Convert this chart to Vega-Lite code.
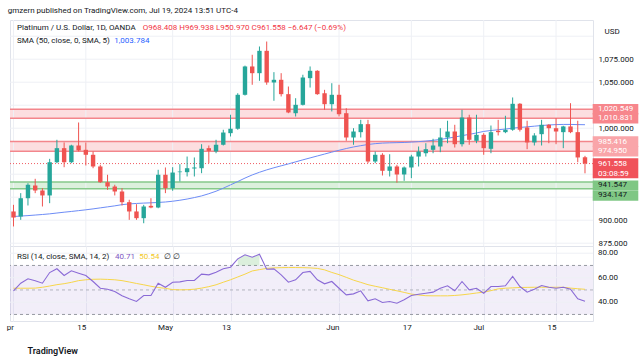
{
  "$schema": "https://vega.github.io/schema/vega-lite/v6.json",
  "background": "white",
  "bounds": "flush",
  "padding": {"left": 5, "top": 6, "right": 0, "bottom": 0},
  "title": {"text": "gmzern published on TradingView.com, Jul 19, 2024 13:51 UTC-4", "anchor": "start", "fontSize": 8, "fontWeight": "normal", "font": "Roboto", "color": "#131722", "offset": 4.5, "dx": 2},
  "datasets": {
    "bars": [
      {"date":"2024-04-01","open":909.5,"high":916.7,"low":893.2,"close":902.9,"sma":904.0,"rsi":49.3,"rsi_ma":51.4},
      {"date":"2024-04-02","open":904.0,"high":929.4,"low":900.4,"close":923.9,"sma":904.5,"rsi":55.5,"rsi_ma":51.4},
      {"date":"2024-04-03","open":923.9,"high":940.2,"low":916.0,"close":938.5,"sma":905.0,"rsi":59.1,"rsi_ma":51.4},
      {"date":"2024-04-04","open":937.7,"high":945.0,"low":929.4,"close":932.3,"sma":905.6,"rsi":57.5,"rsi_ma":51.5},
      {"date":"2024-04-05","open":932.3,"high":934.8,"low":914.9,"close":926.9,"sma":906.2,"rsi":55.5,"rsi_ma":52.2},
      {"date":"2024-04-08","open":926.9,"high":966.7,"low":918.5,"close":963.0,"sma":906.9,"rsi":64.2,"rsi_ma":53.2},
      {"date":"2024-04-09","open":963.0,"high":987.4,"low":962.0,"close":978.3,"sma":907.8,"rsi":67.3,"rsi_ma":54.3},
      {"date":"2024-04-10","open":978.3,"high":984.5,"low":957.6,"close":963.0,"sma":908.7,"rsi":61.8,"rsi_ma":55.1},
      {"date":"2024-04-11","open":963.0,"high":982.0,"low":962.0,"close":981.2,"sma":909.5,"rsi":65.6,"rsi_ma":56.2},
      {"date":"2024-04-12","open":981.2,"high":1006.2,"low":974.7,"close":975.8,"sma":910.4,"rsi":63.7,"rsi_ma":57.6},
      {"date":"2024-04-15","open":976.5,"high":984.5,"low":959.5,"close":971.1,"sma":911.3,"rsi":61.8,"rsi_ma":58.3},
      {"date":"2024-04-16","open":971.1,"high":974.7,"low":956.5,"close":958.4,"sma":912.3,"rsi":56.9,"rsi_ma":58.7},
      {"date":"2024-04-17","open":958.4,"high":960.2,"low":940.5,"close":941.3,"sma":913.4,"rsi":51.4,"rsi_ma":58.8},
      {"date":"2024-04-18","open":941.3,"high":949.4,"low":933.0,"close":936.6,"sma":914.5,"rsi":50.6,"rsi_ma":58.6},
      {"date":"2024-04-19","open":936.6,"high":938.5,"low":926.9,"close":931.2,"sma":915.6,"rsi":48.7,"rsi_ma":58.3},
      {"date":"2024-04-22","open":931.2,"high":934.8,"low":916.0,"close":919.6,"sma":916.9,"rsi":45.2,"rsi_ma":57.6},
      {"date":"2024-04-23","open":919.6,"high":922.2,"low":900.4,"close":909.5,"sma":917.7,"rsi":42.8,"rsi_ma":56.5},
      {"date":"2024-04-24","open":909.5,"high":917.4,"low":900.4,"close":902.2,"sma":918.2,"rsi":40.6,"rsi_ma":55.3},
      {"date":"2024-04-25","open":902.2,"high":916.7,"low":896.7,"close":914.9,"sma":918.6,"rsi":45.5,"rsi_ma":54.2},
      {"date":"2024-04-26","open":915.6,"high":923.9,"low":913.0,"close":913.8,"sma":918.9,"rsi":45.5,"rsi_ma":53.0},
      {"date":"2024-04-29","open":913.8,"high":954.8,"low":913.0,"close":949.4,"sma":919.3,"rsi":55.5,"rsi_ma":52.0},
      {"date":"2024-04-30","open":949.4,"high":957.3,"low":929.4,"close":934.8,"sma":919.8,"rsi":52.2,"rsi_ma":51.3},
      {"date":"2024-05-01","open":934.8,"high":957.6,"low":932.0,"close":951.8,"sma":920.6,"rsi":56.3,"rsi_ma":50.3},
      {"date":"2024-05-02","open":952.2,"high":960.9,"low":942.1,"close":952.9,"sma":921.7,"rsi":56.6,"rsi_ma":50.1},
      {"date":"2024-05-03","open":952.2,"high":969.2,"low":947.5,"close":956.5,"sma":923.0,"rsi":57.7,"rsi_ma":50.2},
      {"date":"2024-05-06","open":956.2,"high":968.2,"low":947.5,"close":957.3,"sma":924.6,"rsi":57.7,"rsi_ma":50.6},
      {"date":"2024-05-07","open":956.5,"high":982.6,"low":951.1,"close":977.6,"sma":926.4,"rsi":62.9,"rsi_ma":51.5},
      {"date":"2024-05-08","open":978.3,"high":981.2,"low":962.0,"close":975.4,"sma":928.8,"rsi":62.3,"rsi_ma":52.7},
      {"date":"2024-05-09","open":974.7,"high":987.4,"low":972.8,"close":982.0,"sma":931.5,"rsi":64.5,"rsi_ma":54.2},
      {"date":"2024-05-10","open":982.0,"high":998.3,"low":981.2,"close":995.3,"sma":934.8,"rsi":67.3,"rsi_ma":56.3},
      {"date":"2024-05-13","open":994.6,"high":1014.6,"low":991.0,"close":999.4,"sma":938.4,"rsi":68.6,"rsi_ma":58.3},
      {"date":"2024-05-14","open":999.4,"high":1038.0,"low":998.3,"close":1036.3,"sma":942.0,"rsi":75.4,"rsi_ma":60.6},
      {"date":"2024-05-15","open":1036.3,"high":1068.0,"low":1035.5,"close":1067.1,"sma":945.8,"rsi":78.7,"rsi_ma":62.9},
      {"date":"2024-05-16","open":1067.1,"high":1079.8,"low":1047.2,"close":1059.8,"sma":949.2,"rsi":76.7,"rsi_ma":65.5},
      {"date":"2024-05-17","open":1059.8,"high":1088.8,"low":1051.5,"close":1084.1,"sma":952.1,"rsi":79.2,"rsi_ma":66.6},
      {"date":"2024-05-20","open":1084.1,"high":1094.2,"low":1047.2,"close":1049.7,"sma":954.7,"rsi":66.9,"rsi_ma":67.6},
      {"date":"2024-05-21","open":1049.7,"high":1060.9,"low":1029.8,"close":1052.6,"sma":957.0,"rsi":67.2,"rsi_ma":68.0},
      {"date":"2024-05-22","open":1052.6,"high":1059.8,"low":1034.5,"close":1037.0,"sma":959.1,"rsi":62.3,"rsi_ma":68.2},
      {"date":"2024-05-23","open":1037.0,"high":1045.3,"low":1016.3,"close":1017.1,"sma":961.2,"rsi":56.3,"rsi_ma":68.3},
      {"date":"2024-05-24","open":1016.3,"high":1032.6,"low":1012.7,"close":1025.4,"sma":963.4,"rsi":58.3,"rsi_ma":68.3},
      {"date":"2024-05-27","open":1025.4,"high":1058.1,"low":1024.7,"close":1055.1,"sma":965.6,"rsi":64.2,"rsi_ma":68.2},
      {"date":"2024-05-28","open":1054.4,"high":1067.1,"low":1044.2,"close":1062.4,"sma":967.7,"rsi":65.1,"rsi_ma":68.0},
      {"date":"2024-05-29","open":1062.4,"high":1063.0,"low":1036.3,"close":1037.0,"sma":969.8,"rsi":58.3,"rsi_ma":67.6},
      {"date":"2024-05-30","open":1038.0,"high":1041.7,"low":1020.0,"close":1026.1,"sma":971.9,"rsi":55.0,"rsi_ma":66.4},
      {"date":"2024-05-31","open":1026.1,"high":1048.9,"low":1018.2,"close":1036.3,"sma":974.0,"rsi":56.9,"rsi_ma":64.3},
      {"date":"2024-06-03","open":1036.3,"high":1047.2,"low":1012.7,"close":1015.2,"sma":976.0,"rsi":51.4,"rsi_ma":62.5},
      {"date":"2024-06-04","open":1016.3,"high":1021.7,"low":986.3,"close":989.9,"sma":977.9,"rsi":46.0,"rsi_ma":60.3},
      {"date":"2024-06-05","open":989.9,"high":1000.0,"low":982.0,"close":996.4,"sma":979.6,"rsi":46.8,"rsi_ma":58.0},
      {"date":"2024-06-06","open":995.7,"high":1009.1,"low":989.9,"close":1004.4,"sma":981.0,"rsi":49.3,"rsi_ma":56.2},
      {"date":"2024-06-07","open":1004.4,"high":1009.1,"low":962.0,"close":963.8,"sma":982.3,"rsi":41.1,"rsi_ma":54.3},
      {"date":"2024-06-10","open":963.8,"high":974.7,"low":962.0,"close":971.1,"sma":983.2,"rsi":42.8,"rsi_ma":53.0},
      {"date":"2024-06-11","open":971.1,"high":972.8,"low":948.6,"close":953.7,"sma":983.8,"rsi":39.8,"rsi_ma":51.8},
      {"date":"2024-06-12","open":953.7,"high":971.7,"low":947.5,"close":958.4,"sma":984.1,"rsi":40.6,"rsi_ma":50.5},
      {"date":"2024-06-13","open":958.4,"high":960.2,"low":940.8,"close":949.7,"sma":984.3,"rsi":39.2,"rsi_ma":49.3},
      {"date":"2024-06-14","open":949.7,"high":958.4,"low":942.8,"close":957.3,"sma":984.5,"rsi":42.0,"rsi_ma":48.0},
      {"date":"2024-06-17","open":957.3,"high":971.1,"low":945.7,"close":969.2,"sma":984.9,"rsi":45.5,"rsi_ma":46.6},
      {"date":"2024-06-18","open":969.2,"high":980.1,"low":958.4,"close":974.7,"sma":985.4,"rsi":46.5,"rsi_ma":45.9},
      {"date":"2024-06-19","open":972.8,"high":983.7,"low":969.2,"close":977.2,"sma":986.0,"rsi":47.3,"rsi_ma":45.3},
      {"date":"2024-06-20","open":976.5,"high":988.5,"low":972.8,"close":981.2,"sma":986.8,"rsi":48.2,"rsi_ma":45.2},
      {"date":"2024-06-21","open":980.1,"high":1000.0,"low":973.9,"close":989.9,"sma":987.8,"rsi":51.4,"rsi_ma":45.2},
      {"date":"2024-06-24","open":989.9,"high":1008.1,"low":983.7,"close":996.4,"sma":989.0,"rsi":53.4,"rsi_ma":45.2},
      {"date":"2024-06-25","open":996.4,"high":1003.7,"low":979.0,"close":982.6,"sma":990.4,"rsi":49.3,"rsi_ma":45.5},
      {"date":"2024-06-26","open":982.6,"high":1020.0,"low":980.1,"close":1011.6,"sma":991.9,"rsi":56.9,"rsi_ma":46.0},
      {"date":"2024-06-27","open":1011.6,"high":1014.6,"low":982.0,"close":987.4,"sma":993.3,"rsi":50.1,"rsi_ma":46.7},
      {"date":"2024-06-28","open":986.3,"high":1014.6,"low":983.7,"close":992.8,"sma":994.8,"rsi":51.4,"rsi_ma":47.5},
      {"date":"2024-07-01","open":992.8,"high":994.6,"low":971.1,"close":978.3,"sma":996.5,"rsi":47.3,"rsi_ma":48.2},
      {"date":"2024-07-02","open":977.6,"high":1002.9,"low":972.8,"close":995.7,"sma":997.5,"rsi":52.8,"rsi_ma":49.4},
      {"date":"2024-07-03","open":997.2,"high":1009.1,"low":992.1,"close":995.7,"sma":998.3,"rsi":52.8,"rsi_ma":50.9},
      {"date":"2024-07-04","open":995.7,"high":1013.5,"low":994.6,"close":998.3,"sma":999.1,"rsi":53.4,"rsi_ma":51.4},
      {"date":"2024-07-05","open":998.3,"high":1033.4,"low":997.2,"close":1026.5,"sma":1000.0,"rsi":61.0,"rsi_ma":51.7},
      {"date":"2024-07-08","open":1026.5,"high":1027.2,"low":996.4,"close":998.3,"sma":1000.8,"rsi":52.8,"rsi_ma":52.0},
      {"date":"2024-07-09","open":1000.8,"high":1008.1,"low":977.2,"close":984.5,"sma":1001.5,"rsi":48.2,"rsi_ma":52.1},
      {"date":"2024-07-10","open":984.5,"high":994.6,"low":981.2,"close":992.1,"sma":1002.2,"rsi":50.6,"rsi_ma":52.2},
      {"date":"2024-07-11","open":993.5,"high":1009.1,"low":981.2,"close":1003.7,"sma":1002.9,"rsi":53.6,"rsi_ma":52.2},
      {"date":"2024-07-12","open":1003.7,"high":1004.4,"low":983.7,"close":1000.0,"sma":1003.5,"rsi":52.2,"rsi_ma":52.2},
      {"date":"2024-07-15","open":1000.0,"high":1010.9,"low":982.6,"close":996.4,"sma":1003.9,"rsi":51.4,"rsi_ma":52.2},
      {"date":"2024-07-16","open":995.7,"high":1002.6,"low":978.3,"close":1001.9,"sma":1004.1,"rsi":52.2,"rsi_ma":52.2},
      {"date":"2024-07-17","open":1001.9,"high":1027.2,"low":994.6,"close":995.7,"sma":1004.1,"rsi":50.6,"rsi_ma":51.5},
      {"date":"2024-07-18","open":995.7,"high":1008.1,"low":963.0,"close":968.205,"sma":1003.9,"rsi":42.8,"rsi_ma":51.0},
      {"date":"2024-07-19","open":968.408,"high":969.938,"low":950.97,"close":961.558,"sma":1003.784,"rsi":40.71,"rsi_ma":50.54}
    ],
    "gridDates": [
      {"date":"2024-04-01"},{"date":"2024-04-15"},{"date":"2024-05-01"},{"date":"2024-05-13"},
      {"date":"2024-06-03"},{"date":"2024-06-17"},{"date":"2024-07-01"},{"date":"2024-07-15"}
    ],
    "zones": [
      {"lo":1010.831,"hi":1020.549,"kind":"res"},
      {"lo":974.95,"hi":985.416,"kind":"zone"},
      {"lo":934.147,"hi":941.547,"kind":"sup"}
    ],
    "tags": [
      {"price":1020.549,"label":"1,020.549","kind":"res"},
      {"price":1010.831,"label":"1,010.831","kind":"res"},
      {"price":985.416,"label":"985.416","kind":"zone"},
      {"price":974.95,"label":"974.950","kind":"zone"},
      {"price":961.558,"label":"961.558","sub":"03:08:59","kind":"last"},
      {"price":941.547,"label":"941.547","kind":"sup1"},
      {"price":934.147,"label":"934.147","kind":"sup2"}
    ]
  },
  "spacing": 0,
  "vconcat": [
    {
      "width": 583,
      "height": 226,
      "layer": [
        {
          "data": {"name": "zones"},
          "mark": {"type": "rect"},
          "encoding": {
            "y": {"field": "lo", "type": "quantitative", "scale": {"domain": [871.96, 1117.6], "nice": false, "zero": false},
              "axis": {"orient": "right", "values": [875, 900, 1000, 1050, 1075],
                "format": ",.3f",
                "labelOverlap": false, "labelBound": false, "labelSeparation": 0, "ticks": false, "domain": false, "grid": false, "labelPadding": 5, "labelFontSize": 8,
                "title": "USD", "titleAngle": 0, "titleAlign": "left", "titleBaseline": "middle", "titleX": 11, "titleY": 11.5,
                "titleFontSize": 8, "titleFontWeight": "normal", "titleColor": "#131722", "titleFont": "Roboto"}},
            "y2": {"field": "hi"},
            "fill": {"condition": {"test": "datum.kind === 'sup'", "value": "#dcf0dd"}, "value": "#fcdee0"}
          }
        },
        {
          "data": {"values": [{"level": 875}, {"level": 900}, {"level": 925}, {"level": 950}, {"level": 975}, {"level": 1000}, {"level": 1025}, {"level": 1050}, {"level": 1075}, {"level": 1100}]},
          "mark": {"type": "rule", "color": "#eef0f5", "strokeWidth": 1},
          "encoding": {"y": {"field": "level", "type": "quantitative"}}
        },
        {
          "data": {"name": "gridDates"},
          "mark": {"type": "rule", "color": "#eef0f5", "strokeWidth": 1},
          "encoding": {"x": {"field": "date", "type": "ordinal", "scale": {"type": "point", "padding": 0.795, "align": 0.304}, "axis": null}}
        },
        {
          "data": {"name": "zones"},
          "mark": {"type": "rule", "strokeWidth": 1.5},
          "encoding": {
            "y": {"field": "lo", "type": "quantitative"},
            "color": {"condition": {"test": "datum.kind === 'sup'", "value": "#86c98a"}, "value": "#f3868c"}
          }
        },
        {
          "data": {"name": "zones"},
          "mark": {"type": "rule", "strokeWidth": 1.5},
          "encoding": {
            "y": {"field": "hi", "type": "quantitative"},
            "color": {"condition": {"test": "datum.kind === 'sup'", "value": "#86c98a"}, "value": "#f3868c"}
          }
        },
        {
          "data": {"name": "tags"},
          "transform": [{"filter": "datum.kind === 'last'"}],
          "mark": {"type": "rule", "strokeWidth": 1, "strokeDash": [1, 2], "color": "#f05c64"},
          "encoding": {"y": {"field": "price", "type": "quantitative"}}
        },
        {
          "data": {"name": "bars"},
          "mark": {"type": "line", "color": "#6d8cf6", "strokeWidth": 1},
          "encoding": {
            "x": {"field": "date", "type": "ordinal", "axis": null},
            "y": {"field": "sma", "type": "quantitative"}
          }
        },
        {
          "data": {"name": "bars"},
          "mark": {"type": "rule", "strokeWidth": 1},
          "encoding": {
            "x": {"field": "date", "type": "ordinal", "axis": null},
            "y": {"field": "low", "type": "quantitative"},
            "y2": {"field": "high"},
            "color": {"condition": {"test": "datum.close >= datum.open", "value": "#26a69a"}, "value": "#ef5350"}
          }
        },
        {
          "data": {"name": "bars"},
          "mark": {"type": "bar", "width": 4.4},
          "encoding": {
            "x": {"field": "date", "type": "ordinal", "axis": null},
            "y": {"field": "open", "type": "quantitative"},
            "y2": {"field": "close"},
            "color": {"condition": {"test": "datum.close >= datum.open", "value": "#26a69a"}, "value": "#ef5350"}
          }
        },
        {
          "data": {"values": [{}]},
          "mark": {"type": "text", "text": "Platinum / U.S. Dollar, 1D, OANDA", "align": "left", "baseline": "middle", "dx": 3.5, "fontSize": 8, "font": "Roboto", "color": "#131722"},
          "encoding": {"x": {"datum": "2024-04-01", "type": "ordinal", "axis": null}, "y": {"datum": 1108.7, "type": "quantitative"}}
        },
        {
          "data": {"values": [{}]},
          "mark": {"type": "text", "text": "O968.408  H969.938  L950.970  C961.558  −6.647 (−0.69%)", "align": "left", "baseline": "middle", "dx": 129.2, "fontSize": 8, "font": "Roboto", "color": "#f23645"},
          "encoding": {"x": {"datum": "2024-04-01", "type": "ordinal", "axis": null}, "y": {"datum": 1108.7, "type": "quantitative"}}
        },
        {
          "data": {"values": [{}]},
          "mark": {"type": "text", "text": "SMA (50, close, 0, SMA, 5)", "align": "left", "baseline": "middle", "dx": 3.5, "fontSize": 8, "font": "Roboto", "color": "#131722"},
          "encoding": {"x": {"datum": "2024-04-01", "type": "ordinal", "axis": null}, "y": {"datum": 1095.0, "type": "quantitative"}}
        },
        {
          "data": {"values": [{}]},
          "mark": {"type": "text", "text": "1,003.784", "align": "left", "baseline": "middle", "dx": 100.8, "fontSize": 8, "font": "Roboto", "color": "#2962ff"},
          "encoding": {"x": {"datum": "2024-04-01", "type": "ordinal", "axis": null}, "y": {"datum": 1095.0, "type": "quantitative"}}
        },
        {
          "data": {"name": "tags"},
          "transform": [{"filter": "datum.kind === 'res' || datum.kind === 'zone'"}],
          "mark": {"type": "tick", "orient": "horizontal", "size": 45.6, "thickness": 10.6, "xOffset": 30.5, "opacity": 1},
          "encoding": {
            "x": {"datum": "2024-07-19", "type": "ordinal", "axis": null},
            "y": {"field": "price", "type": "quantitative"},
            "color": {"condition": {"test": "datum.kind === 'res'", "value": "#f7868c"}, "value": "#f9a5a9"}
          }
        },
        {
          "data": {"name": "tags"},
          "transform": [{"filter": "datum.kind === 'last'"}],
          "mark": {"type": "tick", "orient": "horizontal", "size": 45.6, "thickness": 20, "xOffset": 30.5, "yOffset": 4.6, "opacity": 1, "color": "#f0525a"},
          "encoding": {
            "x": {"datum": "2024-07-19", "type": "ordinal", "axis": null},
            "y": {"field": "price", "type": "quantitative"}
          }
        },
        {
          "data": {"name": "tags"},
          "transform": [{"filter": "datum.kind === 'sup1'"}],
          "mark": {"type": "tick", "orient": "horizontal", "size": 45.6, "thickness": 9.6, "xOffset": 30.5, "yOffset": 3.3, "opacity": 1, "color": "#7fc784"},
          "encoding": {
            "x": {"datum": "2024-07-19", "type": "ordinal", "axis": null},
            "y": {"field": "price", "type": "quantitative"}
          }
        },
        {
          "data": {"name": "tags"},
          "transform": [{"filter": "datum.kind === 'sup2'"}],
          "mark": {"type": "tick", "orient": "horizontal", "size": 45.6, "thickness": 10.3, "xOffset": 30.5, "yOffset": 6.7, "opacity": 1, "color": "#7fc784"},
          "encoding": {
            "x": {"datum": "2024-07-19", "type": "ordinal", "axis": null},
            "y": {"field": "price", "type": "quantitative"}
          }
        },
        {
          "data": {"name": "tags"},
          "transform": [{"filter": "datum.kind === 'res' || datum.kind === 'zone' || datum.kind === 'last'"}],
          "mark": {"type": "text", "align": "left", "baseline": "middle", "dx": 13, "fontSize": 8, "font": "Roboto", "color": "white"},
          "encoding": {
            "x": {"datum": "2024-07-19", "type": "ordinal", "axis": null},
            "y": {"field": "price", "type": "quantitative"},
            "text": {"field": "label"}
          }
        },
        {
          "data": {"name": "tags"},
          "transform": [{"filter": "datum.kind === 'last'"}],
          "mark": {"type": "text", "align": "left", "baseline": "middle", "dx": 13, "yOffset": 10, "fontSize": 8, "font": "Roboto", "color": "white"},
          "encoding": {
            "x": {"datum": "2024-07-19", "type": "ordinal", "axis": null},
            "y": {"field": "price", "type": "quantitative"},
            "text": {"field": "sub"}
          }
        },
        {
          "data": {"name": "tags"},
          "transform": [{"filter": "datum.kind === 'sup1'"}],
          "mark": {"type": "text", "align": "left", "baseline": "middle", "dx": 13, "yOffset": 3.3, "fontSize": 8, "font": "Roboto", "color": "#131722"},
          "encoding": {
            "x": {"datum": "2024-07-19", "type": "ordinal", "axis": null},
            "y": {"field": "price", "type": "quantitative"},
            "text": {"field": "label"}
          }
        },
        {
          "data": {"name": "tags"},
          "transform": [{"filter": "datum.kind === 'sup2'"}],
          "mark": {"type": "text", "align": "left", "baseline": "middle", "dx": 13, "yOffset": 6.7, "fontSize": 8, "font": "Roboto", "color": "#131722"},
          "encoding": {
            "x": {"datum": "2024-07-19", "type": "ordinal", "axis": null},
            "y": {"field": "price", "type": "quantitative"},
            "text": {"field": "label"}
          }
        }
      ]
    },
    {
      "width": 583,
      "height": 75,
      "layer": [
        {
          "data": {"values": [{"lo": 30, "hi": 70}]},
          "mark": {"type": "rect", "color": "#7e57c2", "opacity": 0.1},
          "encoding": {
            "y": {"field": "lo", "type": "quantitative", "scale": {"domain": [24.65, 85.88], "nice": false, "zero": false}, "axis": null},
            "y2": {"field": "hi"}
          }
        },
        {
          "data": {"values": [{"level": 40}, {"level": 60}, {"level": 80}]},
          "mark": {"type": "rule", "color": "#eef0f5", "strokeWidth": 1},
          "encoding": {"y": {"field": "level", "type": "quantitative"}}
        },
        {
          "data": {"values": [{"level": 40}, {"level": 60}, {"level": 80}]},
          "mark": {"type": "text", "align": "left", "baseline": "middle", "dx": 13, "fontSize": 8, "font": "Roboto", "color": "#131722"},
          "encoding": {
            "x": {"datum": "2024-07-19", "type": "ordinal"},
            "y": {"field": "level", "type": "quantitative"},
            "text": {"field": "level", "type": "quantitative", "format": ".2f"}
          }
        },
        {
          "data": {"values": [{"level": 70}, {"level": 30}]},
          "mark": {"type": "rule", "color": "#9598a1", "strokeDash": [3, 3], "strokeWidth": 1},
          "encoding": {"y": {"field": "level", "type": "quantitative"}}
        },
        {
          "data": {"values": [{"level": 50}]},
          "mark": {"type": "rule", "color": "#b2b5be", "strokeDash": [3, 3], "strokeWidth": 1},
          "encoding": {"y": {"field": "level", "type": "quantitative"}}
        },
        {
          "data": {"name": "bars"},
          "transform": [{"filter": "datum.rsi >= 70"}],
          "mark": {"type": "area", "color": "#4caf50", "opacity": 0.2},
          "encoding": {
            "x": {"field": "date", "type": "ordinal"},
            "y": {"field": "rsi", "type": "quantitative"},
            "y2": {"datum": 70}
          }
        },
        {
          "data": {"name": "bars"},
          "mark": {"type": "line", "color": "#f7d64a", "strokeWidth": 1},
          "encoding": {
            "x": {"field": "date", "type": "ordinal", "scale": {"type": "point", "padding": 0.795, "align": 0.304},
              "axis": {"values": ["2024-04-01","2024-04-15","2024-05-01","2024-05-13","2024-06-03","2024-06-17","2024-07-01","2024-07-15"],
                "labelExpr": "datum.value == '2024-04-01' ? 'pr' : datum.value == '2024-04-15' ? '15' : datum.value == '2024-05-01' ? 'May' : datum.value == '2024-05-13' ? '13' : datum.value == '2024-06-03' ? 'Jun' : datum.value == '2024-06-17' ? '17' : datum.value == '2024-07-01' ? 'Jul' : '15'",
                "ticks": false, "domain": false, "grid": true, "gridColor": "#eef0f5", "labelAngle": 0, "labelPadding": 6, "labelFontSize": 8,
                "title": "TradingView", "titleAnchor": "start", "titleAlign": "left", "titleBaseline": "middle", "titleX": 17, "titleY": 29.5,
                "titleFontSize": 9, "titleFontWeight": 600, "titleColor": "#131722", "titleFont": "Roboto"}},
            "y": {"field": "rsi_ma", "type": "quantitative"}
          }
        },
        {
          "data": {"name": "bars"},
          "mark": {"type": "line", "color": "#8a6ad6", "strokeWidth": 1.1},
          "encoding": {
            "x": {"field": "date", "type": "ordinal"},
            "y": {"field": "rsi", "type": "quantitative"}
          }
        },
        {
          "data": {"values": [{}]},
          "mark": {"type": "text", "text": "RSI (14, close, SMA, 14, 2)", "align": "left", "baseline": "middle", "dx": 3.5, "fontSize": 8, "font": "Roboto", "color": "#131722"},
          "encoding": {"x": {"datum": "2024-04-01", "type": "ordinal"}, "y": {"datum": 77.3, "type": "quantitative"}}
        },
        {
          "data": {"values": [{}]},
          "mark": {"type": "text", "text": "40.71", "align": "left", "baseline": "middle", "dx": 101.5, "fontSize": 8, "font": "Roboto", "color": "#7e57c2"},
          "encoding": {"x": {"datum": "2024-04-01", "type": "ordinal"}, "y": {"datum": 77.3, "type": "quantitative"}}
        },
        {
          "data": {"values": [{}]},
          "mark": {"type": "text", "text": "50.54", "align": "left", "baseline": "middle", "dx": 125.8, "fontSize": 8, "font": "Roboto", "color": "#f2c81f"},
          "encoding": {"x": {"datum": "2024-04-01", "type": "ordinal"}, "y": {"datum": 77.3, "type": "quantitative"}}
        },
        {
          "data": {"values": [{}]},
          "mark": {"type": "text", "text": "∅  ∅", "align": "left", "baseline": "middle", "dx": 150.8, "fontSize": 8, "font": "Roboto", "color": "#131722"},
          "encoding": {"x": {"datum": "2024-04-01", "type": "ordinal"}, "y": {"datum": 77.3, "type": "quantitative"}}
        }
      ]
    }
  ],
  "config": {
    "font": "Roboto",
    "view": {"stroke": "#e0e3eb"},
    "axis": {"labelFont": "Roboto", "labelColor": "#131722", "labelFontSize": 8, "labelOverlap": false}
  }
}
